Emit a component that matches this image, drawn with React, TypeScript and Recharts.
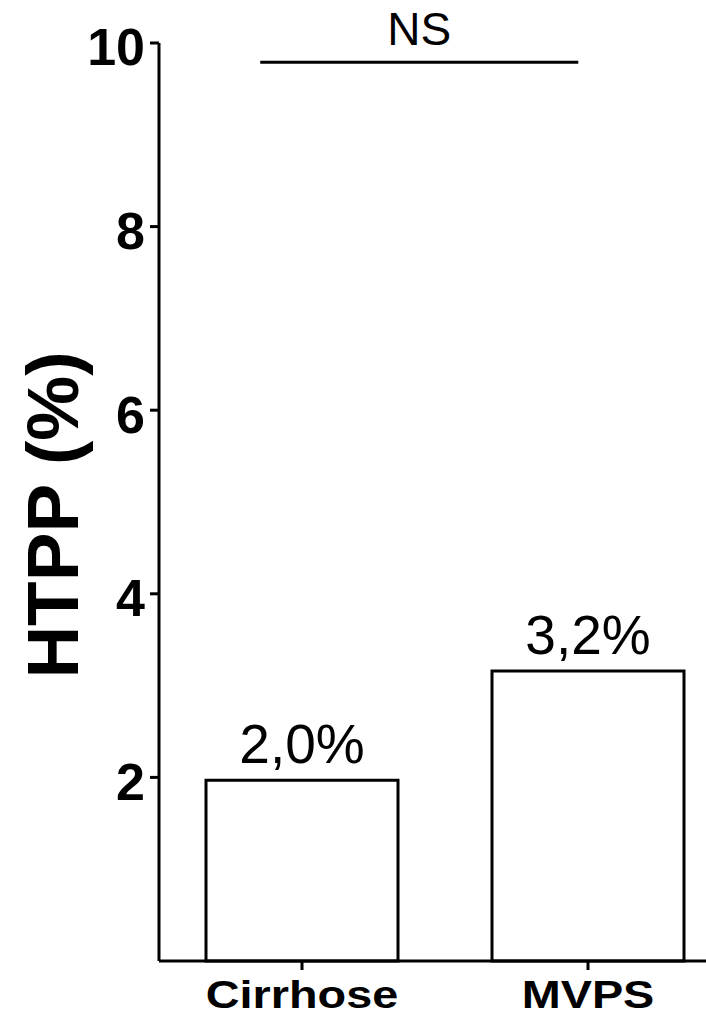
import React from 'react';
import { BarChart, Bar, XAxis, YAxis, LabelList, ReferenceLine } from 'recharts';

const categories = ['Cirrhose', 'MVPS'];
const values = [1.97, 3.16];
const valueLabels = ['2,0%', '3,2%'];
const yTicks = [2, 4, 6, 8, 10];
const yLabel = 'HTPP (%)';
const sigLabel = 'NS';
const sigLevel = 9.79;

const data = categories.map((c, i) => ({ name: c, value: values[i], label: valueLabels[i] }));

const FONT = '"Liberation Sans", Arial, sans-serif';

const NSShape = (props: any) => {
  const { x1, x2, y1 } = props;
  const w = x2 - x1;
  const a = x1 + 0.177 * w;
  const b = x1 + 0.733 * w;
  return (
    <g>
      <line x1={a} x2={b} y1={y1} y2={y1} stroke="#000" strokeWidth={3} />
      <text x={(a + b) / 2} y={y1 - 17} textAnchor="middle" fontFamily={FONT} fontSize={46} fill="#000">
        {sigLabel}
      </text>
    </g>
  );
};

const YLabel = (props: any) => {
  const vb = props.viewBox || {};
  const cx = (vb.x ?? 0) + 78;
  const cy = (vb.y ?? 0) + (vb.height ?? 0) / 2 + 13;
  return (
    <text
      x={cx}
      y={cy}
      transform={`rotate(-90 ${cx} ${cy})`}
      textAnchor="middle"
      fontFamily={FONT}
      fontWeight="bold"
      fontSize={73}
      fill="#000"
    >
      {yLabel}
    </text>
  );
};

const XTick = (props: any) => {
  const { x, y, payload } = props;
  return (
    <g transform={`translate(${x},${y})`}>
      <text
        transform="scale(1.2,1)"
        textAnchor="middle"
        dy="0.71em"
        fontFamily={FONT}
        fontWeight="bold"
        fontSize={39}
        fill="#000"
      >
        {payload.value}
      </text>
    </g>
  );
};

export default function App() {
  return (
    <div style={{ position: 'absolute', left: 0, top: 0, width: 706, height: 1020, overflow: 'hidden', background: '#fff' }}>
      <BarChart
        width={731}
        height={1020}
        data={data}
        margin={{ top: 43, right: 0, bottom: 0, left: 0 }}
        barSize={192}
      >
        <XAxis
          dataKey="name"
          axisLine={{ stroke: '#000', strokeWidth: 3 }}
          tickLine={{ stroke: '#000', strokeWidth: 3 }}
          tickSize={9}
          tickMargin={10}
          tick={<XTick />}
          height={59}
          interval={0}
        />
        <YAxis
          type="number"
          domain={[0, 10]}
          ticks={yTicks}
          width={159}
          axisLine={{ stroke: '#000', strokeWidth: 3 }}
          tickLine={{ stroke: '#000', strokeWidth: 3 }}
          tickSize={9}
          tickMargin={5}
          tick={{ fill: '#000', fontFamily: FONT, fontWeight: 'bold', fontSize: 52, dy: 4 }}
          label={<YLabel />}
        />
        <ReferenceLine y={sigLevel} shape={<NSShape />} ifOverflow="visible" />
        <Bar dataKey="value" fill="#fff" stroke="#000" strokeWidth={3} isAnimationActive={false}>
          <LabelList
            dataKey="label"
            position="top"
            offset={17}
            fill="#000"
            fontFamily={FONT}
            fontSize={55}
          />
        </Bar>
      </BarChart>
    </div>
  );
}
